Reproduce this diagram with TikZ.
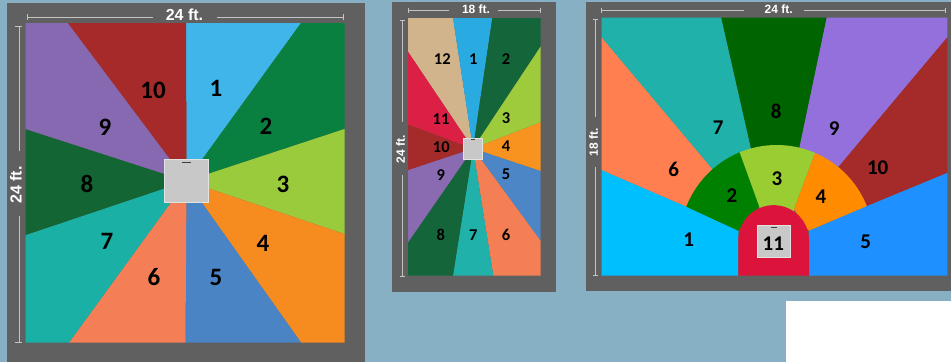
\documentclass[tikz,border=0pt]{standalone}
\usepackage{fontspec}
\setmainfont{Liberation Sans}
\newfontfamily\numfont{Carlito}[BoldFont=Carlito Bold]
\definecolor{bgblue}{HTML}{87B0C5}
\definecolor{frame}{HTML}{606060}
\definecolor{dimc}{HTML}{C4C4C4}
\definecolor{boxc}{HTML}{C8C8C8}
\definecolor{boxe}{HTML}{E2E2E2}
\begin{document}
\begin{tikzpicture}[x=1pt,y=-1pt,
  hex/.code={\definecolor{tmpfill}{HTML}{#1}\pgfkeysalso{fill=tmpfill}},
  dimline/.style={draw=dimc,line width=1pt},
  dimtext/.style={text=white,font=\bfseries\fontsize{#1}{#1}\selectfont,inner sep=0pt},
  numa/.style={text=black,font=\numfont\bfseries\fontsize{25}{25}\selectfont,inner sep=0pt},
  numb/.style={text=black,font=\numfont\bfseries\fontsize{16.5}{16.5}\selectfont,inner sep=0pt},
  numc/.style={text=black,font=\numfont\bfseries\fontsize{21}{21}\selectfont,inner sep=0pt},
  sensor/.style={fill=boxc,draw=boxe,line width=0.8pt},
  markdash/.style={draw=black!75,line width=0.9pt}]
\useasboundingbox (0,0) rectangle (951,362);
\fill[bgblue] (0,0) rectangle (951,362);
\fill[white] (786,301) rectangle (951,362);
% ---------- Panel 1
\fill[frame] (7,3) rectangle (365,362);
\coordinate (ca) at (186.5,181);
\fill[hex=3FB5EA] (ca) -- (186,23) -- (301,23) -- cycle;
\fill[hex=0A8040] (ca) -- (301,23) -- (344.5,23) -- (344.5,129) -- cycle;
\fill[hex=9ACB3C] (ca) -- (344.5,129) -- (344.5,234) -- cycle;
\fill[hex=F68B20] (ca) -- (344.5,234) -- (344.5,342.5) -- (301,342.5) -- cycle;
\fill[hex=4A84C5] (ca) -- (301,342.5) -- (185.5,342.5) -- cycle;
\fill[hex=F47E55] (ca) -- (185.5,342.5) -- (69,342.5) -- cycle;
\fill[hex=1AB0A5] (ca) -- (69,342.5) -- (25.5,342.5) -- (25.5,235) -- cycle;
\fill[hex=146534] (ca) -- (25.5,235) -- (25.5,129) -- cycle;
\fill[hex=8669B0] (ca) -- (25.5,129) -- (25.5,23) -- (68,23) -- cycle;
\fill[hex=A62A2A] (ca) -- (68,23) -- (186,23) -- cycle;
\path[sensor] (164.5,159) rectangle (208.5,202.5);
\draw[markdash] (182,162.5) -- (190.5,162.5);
\node[numa] (a1) at (216,88) {1};
\node[numa] (a2) at (266,126) {2};
\node[numa] (a3) at (283,184) {3};
\node[numa] (a4) at (263,243) {4};
\node[numa] (a5) at (216,277) {5};
\node[numa] (a6) at (154,277) {6};
\node[numa] (a7) at (107,241) {7};
\node[numa] (a8) at (87,184) {8};
\node[numa] (a9) at (105,127) {9};
\node[numa] (a10) at (153,90) {10};
\node[dimtext=16] (atop) at (184.5,15) {24 ft.};
\node[dimtext=16,rotate=90] (aleft) at (16,185) {24 ft.};
\draw[dimline] (27.5,14) -- (27.5,20) (27.5,17) -- (153,17) (217,17) -- (343.5,17) (343.5,14) -- (343.5,20);
\draw[dimline] (15,26) -- (22,26) (19,26) -- (19,151) (19,216) -- (19,342) (15,342) -- (22,342);
% ---------- Panel 2
\fill[frame] (392,2) rectangle (556,292);
\coordinate (cb) at (473,148.5);
\fill[hex=D2B48C] (cb) -- (408,51.7) -- (408,18) -- (453,18) -- cycle;
\fill[hex=29ABE2] (cb) -- (453,18) -- (492.3,18) -- cycle;
\fill[hex=14663A] (cb) -- (492.3,18) -- (540.5,18) -- (540.5,46.7) -- cycle;
\fill[hex=9ECB3C] (cb) -- (540.5,46.7) -- (540.5,122.3) -- cycle;
\fill[hex=F7931E] (cb) -- (540.5,122.3) -- (540.5,171) -- cycle;
\fill[hex=4C86C6] (cb) -- (540.5,171) -- (540.5,240.7) -- cycle;
\fill[hex=F47F55] (cb) -- (540.5,240.7) -- (540.5,275.5) -- (493.3,275.5) -- cycle;
\fill[hex=20B2AA] (cb) -- (493.3,275.5) -- (453,275.5) -- cycle;
\fill[hex=14663A] (cb) -- (453,275.5) -- (408,275.5) -- (408,242.3) -- cycle;
\fill[hex=8A6BB1] (cb) -- (408,242.3) -- (408,170) -- cycle;
\fill[hex=A52A2A] (cb) -- (408,170) -- (408,124.3) -- cycle;
\fill[hex=DC1F44] (cb) -- (408,124.3) -- (408,51.7) -- cycle;
\path[sensor] (463.3,138) rectangle (482.7,159);
\draw[markdash,line width=0.7pt] (471,139.5) -- (475,139.5);
\node[numb] (b1) at (473.3,59.3) {1};
\node[numb] (b2) at (506,59.3) {2};
\node[numb] (b3) at (506,118.3) {3};
\node[numb] (b4) at (506,146.3) {4};
\node[numb] (b5) at (506,174.7) {5};
\node[numb] (b6) at (506,235) {6};
\node[numb] (b7) at (473.3,235) {7};
\node[numb] (b8) at (440.7,235) {8};
\node[numb] (b9) at (440.7,174.7) {9};
\node[numb] (b10) at (441.3,146.7) {10};
\node[numb] (b11) at (441,118.7) {11};
\node[numb] (b12) at (442.3,59.3) {12};
\node[dimtext=12] (btop) at (476,9) {18 ft.};
\node[dimtext=12,rotate=90] (bleft) at (400.5,149) {24 ft.};
\draw[dimline,line width=0.8pt] (408,7.5) -- (408,12.5) (408,10) -- (448.5,10) (498,10) -- (540.5,10) (540.5,7.5) -- (540.5,12.5);
\draw[dimline,line width=0.8pt] (400,20.5) -- (404.5,20.5) (402,20.5) -- (402,122) (402,175) -- (402,276) (400,276) -- (404.5,276);
% ---------- Panel 3
\fill[frame] (586,2) rectangle (951,291);
\fill[hex=00BFFF] (601.7,275.7) -- (601.7,170) -- (686.7,206.7) -- (738.3,230.7) -- (738.3,275.7) -- cycle;
\fill[hex=1E90FF] (947.3,275.7) -- (947.3,172.7) -- (866.7,206) -- (809,230.7) -- (809,275.7) -- cycle;
\fill[hex=FF7F50] (601.7,37.3) -- (601.7,170) -- (686.7,206.7) -- (712.7,169.3) -- cycle;
\fill[hex=20B2AA] (601.7,17.7) -- (721.3,17.7) -- (751.3,149.7) -- (712.7,169.3) -- (601.7,37.3) -- cycle;
\fill[hex=006400] (721.3,17.7) -- (826.7,17.7) -- (799.3,148.3) -- (776.7,150) -- (751.3,149.7) -- cycle;
\fill[hex=9370DB] (826.7,17.7) -- (947.3,17.7) -- (947.3,37.3) -- (838.7,166.7) -- (799.3,148.3) -- cycle;
\fill[hex=A52A2A] (947.3,37.3) -- (947.3,172.7) -- (866.7,206) -- (830,180) -- (838.7,166.7) -- cycle;
\begin{scope}
\clip (776.7,242) circle[radius=97];
\fill[hex=008000] (738.3,230.7) -- (650,190) -- (650,120) -- (728,120) -- (759.3,206.7) -- cycle;
\fill[hex=9ACD32] (759.3,215) -- (759.3,206.7) -- (728,120) -- (827.5,120) -- (794,209.3) -- (794,215) -- cycle;
\fill[hex=FF8C00] (794,209.3) -- (827.5,120) -- (900,120) -- (900,192) -- (808.7,230.7) -- cycle;
\end{scope}
\fill[hex=DC143C] (738.3,275.7) -- (738.3,240.5) arc[start angle=180,end angle=360,radius=35.35] -- (809,275.7) -- cycle;
\path[sensor] (757.3,225.3) rectangle (790.5,257.5);
\draw[markdash,line width=0.5pt] (771,227.5) -- (777,227.5);
\node[numc] (c1) at (688.7,239.7) {1};
\node[numc] (c2) at (732,195.3) {2};
\node[numc] (c3) at (777,179) {3};
\node[numc] (c4) at (821,196.7) {4};
\node[numc] (c5) at (865.7,241.7) {5};
\node[numc] (c6) at (673.7,169) {6};
\node[numc] (c7) at (718.3,128) {7};
\node[numc] (c8) at (776.3,111.3) {8};
\node[numc] (c9) at (834.3,128.7) {9};
\node[numc] (c10) at (877.7,167.7) {10};
\node[numc] (c11) at (773.3,243.3) {11};
\node[dimtext=12] (ctop) at (778.7,9.5) {24 ft.};
\node[dimtext=12,rotate=90] (cleft) at (593.5,142) {18 ft.};
\draw[dimline,line width=0.8pt] (601,7.5) -- (601,12.5) (601,10) -- (744,10) (804,10) -- (945,10) (945,7.5) -- (945,12.5);
\draw[dimline,line width=0.8pt] (593,19.5) -- (598,19.5) (595.5,19.5) -- (595.5,117) (595.5,167) -- (595.5,275) (593,275) -- (598,275);
\end{tikzpicture}
\end{document}
